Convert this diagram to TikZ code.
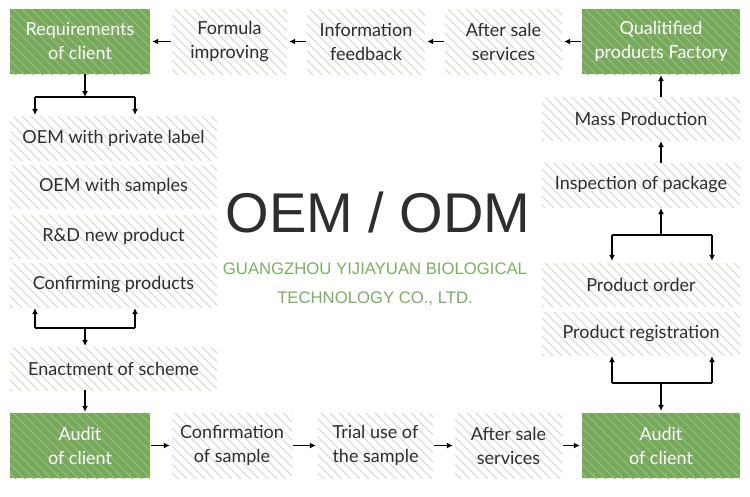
\documentclass[tikz,border=0pt]{standalone}
\usepackage{fontspec}
\setmainfont{Lato}
\newfontfamily\arialf{Liberation Sans}
\usetikzlibrary{arrows.meta}
\definecolor{gfill}{HTML}{78A85C}
\definecolor{gstripe}{HTML}{92BD7B}
\definecolor{wfill}{HTML}{FFFFFF}
\definecolor{wstripe}{HTML}{DDDFD2}
\definecolor{txt}{HTML}{2E2E2E}
\definecolor{gtextcol}{HTML}{7BB062}
\tikzset{
  box/.style={inner sep=0pt, align=center, font=\fontsize{18}{24}\selectfont},
  gtxt/.style={text=white},
  wtxt/.style={text=txt},
  arr/.style={-{Latex[length=6pt,width=6pt]}, line width=1.1pt, black},
  barline/.style={line width=1.1pt, black},
}
\newcommand\stripebox[7]{%
  \begin{scope}
    \clip (#2,#3) rectangle (#4,#5);
    \fill[#6fill] (#2,#3) rectangle (#4,#5);
    \foreach \k in {0,9,...,300}{\draw[#6stripe, line width=1.2pt] ({#2-80+\k},{#3-2}) -- ++(90,90);}
  \end{scope}
  \node[box, #6txt, minimum width={(#4-#2)*1pt}, minimum height={(#5-#3)*1pt}] (#1) at ({(#2+#4)/2},{(#3+#5)/2}) {#7};
}
\begin{document}
\begin{tikzpicture}[x=1pt,y=-1pt]
\useasboundingbox (0,0) rectangle (750,496);
\fill[white] (0,0) rectangle (750,496);
% top row
\stripebox{reqc}{10}{9}{150}{74}{g}{Requirements\\of client}
\stripebox{formula}{172}{9}{287}{74}{w}{Formula\\improving}
\stripebox{info}{307}{9}{425}{74}{w}{Information\\feedback}
\stripebox{afterA}{445}{9}{562}{74}{w}{After sale\\services}
\stripebox{qpf}{582}{9}{740}{74}{g}{Qualitified\\products Factory}
% left column
\stripebox{oemA}{10}{116}{217}{160}{w}{OEM with private label}
\stripebox{oemB}{10}{165}{217}{208}{w}{OEM with samples}
\stripebox{rd}{10}{215}{217}{258}{w}{R\&D new product}
\stripebox{confp}{10}{263}{217}{307}{w}{Confirming products}
\stripebox{enact}{10}{347}{217}{390}{w}{Enactment of scheme}
% bottom row
\stripebox{auditL}{10}{413}{150}{478}{g}{Audit\\of client}
\stripebox{confs}{172}{413}{292}{478}{w}{Confirmation\\of sample}
\stripebox{trial}{318}{413}{433}{478}{w}{Trial use of\\the sample}
\stripebox{afterB}{455}{413}{562}{478}{w}{After sale\\services}
\stripebox{auditR}{582}{413}{740}{478}{g}{Audit\\of client}
% right column
\stripebox{mass}{542}{97}{740}{140}{w}{Mass Production}
\stripebox{insp}{542}{163}{740}{207}{w}{Inspection of package}
\stripebox{order}{542}{263}{740}{306}{w}{Product order}
\stripebox{reg}{542}{312}{740}{355}{w}{Product registration}
% centre texts
\node[anchor=base, font=\arialf\fontsize{56}{60}\selectfont, text=txt] (title) at (378,232) {OEM / ODM};
\node[anchor=base, font=\arialf\fontsize{16.7}{20}\selectfont, text=gtextcol] (compA) at (375,274) {GUANGZHOU YIJIAYUAN BIOLOGICAL};
\node[anchor=base, font=\arialf\fontsize{16.7}{20}\selectfont, text=gtextcol] (compB) at (375,303) {TECHNOLOGY CO., LTD.};
% top row arrows
\draw[arr, shorten <=1pt, shorten >=2pt] (qpf.west) -- (afterA.east);
\draw[arr, shorten <=1pt, shorten >=2pt] (afterA.west) -- (info.east);
\draw[arr, shorten <=1pt, shorten >=2pt] (info.west) -- (formula.east);
\draw[arr, shorten <=1pt, shorten >=2pt] (formula.west) -- (reqc.east);
% left branch 1
\coordinate (b1c) at (85,97);
\coordinate (b1l) at (35,97);
\coordinate (b1r) at (135,97);
\draw[arr] (reqc.south -| b1c) -- (b1c);
\draw[barline] (b1l) -- (b1r);
\draw[arr, shorten >=1pt] (b1l) -- (b1l |- oemA.north);
\draw[arr, shorten >=1pt] (b1r) -- (b1r |- oemA.north);
% left branch 2
\coordinate (b2c) at (85,328);
\coordinate (b2l) at (35,328);
\coordinate (b2r) at (135,328);
\draw[barline] (b2l) -- (b2r);
\draw[arr, shorten >=1pt] (b2l) -- (b2l |- confp.south);
\draw[arr, shorten >=1pt] (b2r) -- (b2r |- confp.south);
\draw[arr, shorten >=1pt] (b2c) -- (b2c |- enact.north);
\coordinate (b3) at (85,390);
\draw[arr, shorten >=1pt] (enact.south -| b3) -- (auditL.north -| b3);
% bottom row arrows
\draw[arr, shorten <=1pt, shorten >=2pt] (auditL.east) -- (confs.west);
\draw[arr, shorten <=1pt, shorten >=2pt] (confs.east) -- (trial.west);
\draw[arr, shorten <=1pt, shorten >=2pt] (trial.east) -- (afterB.west);
\draw[arr, shorten <=1pt, shorten >=2pt] (afterB.east) -- (auditR.west);
% right branch low
\coordinate (b4c) at (661,383);
\coordinate (b4l) at (612,383);
\coordinate (b4r) at (712,383);
\draw[barline] (b4l) -- (b4r);
\draw[arr, shorten >=1pt] (b4l) -- (b4l |- reg.south);
\draw[arr, shorten >=1pt] (b4r) -- (b4r |- reg.south);
\draw[arr, shorten >=2pt] (b4c) -- (b4c |- auditR.north);
% right branch high
\coordinate (b5c) at (661,235);
\coordinate (b5l) at (612,235);
\coordinate (b5r) at (712,235);
\draw[barline] (b5l) -- (b5r);
\draw[arr, shorten >=2pt] (b5l) -- (b5l |- order.north);
\draw[arr, shorten >=2pt] (b5r) -- (b5r |- order.north);
\draw[arr, shorten >=1pt] (b5c) -- (b5c |- insp.south);
\draw[arr, shorten >=1pt] (insp.north -| b5c) -- (mass.south -| b5c);
\draw[arr, shorten >=1pt] (mass.north -| b5c) -- (qpf.south -| b5c);
\end{tikzpicture}
\end{document}
